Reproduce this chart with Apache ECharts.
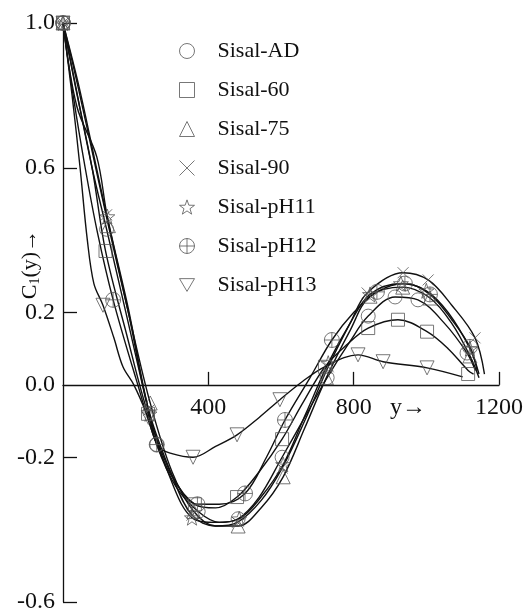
<!DOCTYPE html>
<html>
<head>
<meta charset="utf-8">
<script src="https://cdn.jsdelivr.net/npm/echarts@6/dist/echarts.min.js"></script>
<style>
  html, body { margin: 0; padding: 0; background: #fff; }
  #chart { width: 529px; height: 612px; }
</style>
</head>
<body>
<div id="chart"></div>
<script>
// tick labels
const xTickLabels = [400, 800, 1200]
const yTickLabels = [1.0, 0.6, 0.2, 0.0, -0.2, -0.6]
const yTicks = [1.0, 0.6, 0.2, -0.2, -0.6]

const seriesNames = ['Sisal-AD', 'Sisal-60', 'Sisal-75', 'Sisal-90', 'Sisal-pH11', 'Sisal-pH12', 'Sisal-pH13']

// smooth curves [y, C1(y)]
const curveAD = [[0,1],[30,0.85],[80,0.6],[120,0.43],[180,0.17],[230,-0.05],[258,-0.165],[310,-0.28],[372,-0.35],[430,-0.38],[482,-0.37],[540,-0.31],[603,-0.2],[665,-0.09],[727,0.02],[790,0.12],[840,0.19],[914,0.243],[977,0.235],[1050,0.17],[1112,0.088],[1135,0.04]]
const curve60 = [[0,1],[35,0.82],[80,0.6],[117,0.37],[175,0.14],[234,-0.08],[300,-0.25],[363,-0.33],[420,-0.34],[479,-0.31],[540,-0.24],[603,-0.15],[660,-0.05],[721,0.05],[780,0.11],[840,0.157],[922,0.18],[1002,0.147],[1060,0.1],[1115,0.04],[1130,0.03]]
const curve75 = [[0,1],[40,0.83],[90,0.6],[125,0.44],[180,0.2],[240,-0.05],[300,-0.24],[360,-0.35],[420,-0.39],[482,-0.39],[545,-0.34],[606,-0.254],[665,-0.12],[725,0.02],[790,0.15],[845,0.245],[935,0.27],[1010,0.24],[1070,0.17],[1120,0.08],[1145,0.02]]
const curve90 = [[0,1],[45,0.82],[92,0.6],[120,0.47],[180,0.2],[236,-0.07],[300,-0.25],[355,-0.36],[420,-0.39],[480,-0.38],[545,-0.32],[603,-0.23],[665,-0.1],[730,0.05],[790,0.17],[837,0.254],[936,0.31],[1005,0.29],[1070,0.22],[1134,0.13],[1160,0.03]]
const curvePH11 = [[0,1],[38,0.77],[93,0.63],[122,0.465],[180,0.21],[238,-0.08],[300,-0.27],[355,-0.367],[420,-0.38],[485,-0.37],[545,-0.31],[606,-0.22],[668,-0.08],[730,0.06],[790,0.17],[845,0.25],[930,0.28],[1000,0.26],[1060,0.2],[1120,0.1],[1145,0.03]]
const curvePH12 = [[0,1],[28,0.8],[61,0.6],[95,0.42],[138,0.235],[200,0.02],[258,-0.165],[310,-0.27],[370,-0.33],[430,-0.33],[501,-0.3],[560,-0.2],[611,-0.097],[680,0.02],[740,0.124],[800,0.2],[864,0.257],[941,0.28],[1010,0.25],[1070,0.18],[1120,0.105],[1140,0.04]]
const curvePH13 = [[0,1],[25,0.8],[47,0.6],[67,0.4],[85,0.28],[110,0.22],[140,0.13],[165,0.05],[195,0.0],[230,-0.08],[262,-0.17],[300,-0.19],[358,-0.2],[420,-0.17],[479,-0.138],[540,-0.09],[597,-0.041],[660,0.01],[720,0.05],[812,0.083],[881,0.064],[1002,0.047],[1100,0.022]]

// marker points
const markAD = [[0,1],[120,0.43],[258,-0.165],[372,-0.35],[482,-0.37],[603,-0.2],[727,0.02],[840,0.19],[914,0.243],[977,0.235],[1112,0.088]]
const mark60 = [[0,1],[117,0.37],[234,-0.08],[363,-0.33],[479,-0.31],[603,-0.15],[721,0.05],[840,0.157],[922,0.18],[1002,0.147],[1115,0.03]]
const mark75 = [[0,1],[125,0.44],[240,-0.05],[360,-0.35],[482,-0.39],[606,-0.254],[725,0.02],[845,0.245],[935,0.27],[1010,0.24],[1120,0.08]]
const mark90 = [[0,1],[120,0.47],[236,-0.07],[355,-0.36],[480,-0.38],[603,-0.23],[730,0.05],[837,0.254],[936,0.31],[1005,0.29],[1134,0.13]]
const markPH11 = [[0,1],[122,0.465],[238,-0.08],[355,-0.367],[485,-0.37],[606,-0.22],[730,0.06],[845,0.25],[930,0.28],[1000,0.26],[1120,0.1]]
const markPH12 = [[0,1],[138,0.235],[258,-0.165],[370,-0.33],[501,-0.3],[611,-0.097],[740,0.124],[864,0.257],[941,0.28],[1010,0.25],[1120,0.105]]
const markPH13 = [[0,1],[110,0.22],[235,-0.09],[358,-0.2],[479,-0.138],[597,-0.041],[812,0.083],[881,0.064],[1002,0.047]]

const curves = [curveAD, curve60, curve75, curve90, curvePH11, curvePH12, curvePH13]
const marks = [markAD, mark60, mark75, mark90, markPH11, markPH12, markPH13]

const symbols = [
  'circle',
  'rect',
  'triangle',
  'path://M0,0L10,10M10,0L0,10',
  'path://M10,0L12.35,6.76L19.51,6.91L13.8,11.24L15.88,18.09L10,14L4.12,18.09L6.2,11.24L0.49,6.91L7.65,6.76Z',
  'path://M20,10A10,10,0,1,1,0,10A10,10,0,1,1,20,10ZM10,0L10,20M0,10L20,10',
  'path://M0,0L20,0L10,17Z'
]
const symbolSizes = [14, 13, 14, 11, 15, 15, 14]

const font = 'Liberation Serif'
const gridTop = 23
const gridBottom = 10
let chart = echarts.init(document.getElementById('chart'))

let series = []
curves.forEach(function (c, i) {
  series.push({
    name: seriesNames[i] + ' line',
    type: 'line',
    data: c,
    smooth: 0.35,
    showSymbol: false,
    silent: true,
    lineStyle: { color: '#111', width: 1.4 },
    z: 2
  })
})
marks.forEach(function (m, i) {
  series.push({
    name: seriesNames[i],
    type: 'scatter',
    data: m,
    symbol: symbols[i],
    symbolSize: symbolSizes[i],
    itemStyle: { color: 'none', borderColor: '#555', borderWidth: 1 },
    z: 3
  })
})

const yMin = -0.6
const yMax = 1.0
// distance from grid bottom up to the zero line, used to lift the x labels onto it
const plotH = 612 - gridTop - gridBottom
const zeroLift = plotH * (0 - yMin) / (yMax - yMin)

chart.setOption({
  animation: false,
  grid: { left: 63, right: 30, top: gridTop, bottom: gridBottom, outerBoundsMode: 'none' },
  legend: {
    data: seriesNames,
    orient: 'vertical',
    left: 172,
    top: 35,
    itemWidth: 15,
    itemHeight: 15,
    itemGap: 17,
    itemStyle: { borderWidth: 1 },
    formatter: function (name) {
      return '{g| }{n|' + name + '}'
    },
    textStyle: {
      rich: {
        g: { width: 18 },
        n: { fontFamily: font, fontSize: 22, color: '#111' }
      }
    }
  },
  xAxis: [{
    type: 'value',
    min: 0,
    max: 1200,
    interval: 400,
    splitLine: { show: false },
    axisLine: { onZero: true, lineStyle: { color: '#111', width: 1.3 } },
    axisTick: { inside: true, length: 13, customValues: xTickLabels, lineStyle: { color: '#111', width: 1.3 } },
    axisLabel: { show: false }
  }, {
    // label-only axis placed on the zero line
    type: 'value',
    min: 0,
    max: 1200,
    interval: 400,
    position: 'bottom',
    offset: -zeroLift,
    splitLine: { show: false },
    axisLine: { show: false },
    axisTick: { show: false },
    axisLabel: {
      customValues: xTickLabels,
      margin: 11,
      fontFamily: font,
      fontSize: 24,
      color: '#111',
      formatter: function (v) { return String(v) }
    }
  }],
  yAxis: {
    type: 'value',
    min: yMin,
    max: yMax,
    interval: 0.2,
    splitLine: { show: false },
    axisLine: { lineStyle: { color: '#111', width: 1.3 } },
    axisTick: { inside: true, length: 14, customValues: yTicks, lineStyle: { color: '#111', width: 1.3 } },
    axisLabel: {
      customValues: yTickLabels,
      margin: 8,
      fontFamily: font,
      fontSize: 24,
      color: '#111',
      formatter: function (v) { return v.toFixed(1) }
    },
    name: '{a|C}{s|1}{a|(y)→}',
    nameLocation: 'middle',
    nameGap: 21,
    nameRotate: 90,
    nameMoveOverlap: false,
    nameTextStyle: {
      padding: [0, 0, 0, 96],
      rich: {
        a: { fontFamily: font, fontSize: 22, color: '#111' },
        s: { fontFamily: font, fontSize: 14, color: '#111', verticalAlign: 'bottom', padding: [10, 0, 0, 0] }
      }
    }
  },
  graphic: [{
    type: 'text',
    left: 390,
    top: 396,
    style: { text: 'y→', font: '24px "Liberation Serif"', fill: '#111' }
  }],
  series: series
})
</script>
</body>
</html>
